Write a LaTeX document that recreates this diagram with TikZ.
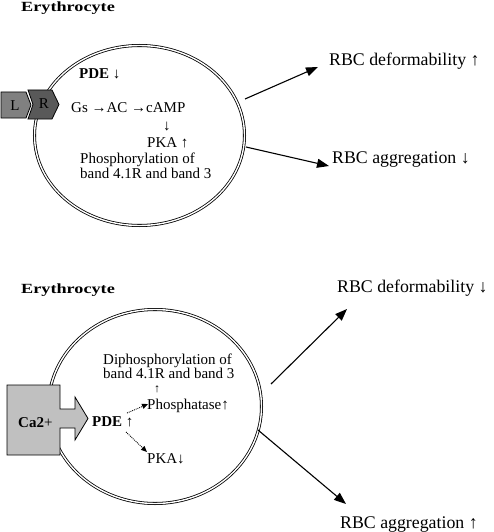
\documentclass[tikz,border=0pt]{standalone}
\usepackage{fontspec}
\setmainfont{Liberation Serif}
\usetikzlibrary{arrows.meta,shapes.geometric}
\definecolor{lgray}{HTML}{808080}
\definecolor{rgray}{HTML}{595959}
\definecolor{cagray}{HTML}{C0C0C0}
\begin{document}
\begin{tikzpicture}[x=1pt,y=-1pt,
  txt/.style={anchor=base west, inner sep=0pt, font=\fontsize{15}{17}\selectfont},
  btxt/.style={anchor=base west, inner sep=0pt, font=\bfseries\fontsize{15}{17}\selectfont},
  big/.style={anchor=base west, inner sep=0pt, font=\fontsize{17.8}{20}\selectfont},
  ttl/.style={anchor=base west, inner sep=0pt, font=\bfseries\fontsize{14}{16}\selectfont},
  cell/.style={draw, ellipse, inner sep=0pt, line width=0.8pt, double, double distance=1.4pt},
  arr/.style={-{Triangle[length=12pt,width=9pt]}, line width=1.1pt},
  darr/.style={densely dotted, line width=0.9pt, -{Triangle[length=6pt,width=5pt]}},
  memb/.style={draw, line width=0.8pt}
]
\useasboundingbox (0,0) rectangle (493,532);

% ---------- top panel ----------
\node[ttl] (t1) at (21,12) {\scalebox{1.3}[1]{Erythrocyte}};
\node[cell, minimum width=210pt, minimum height=180pt] (cell1) at (139.5,135.5) {};

\path[memb, fill=lgray] (1,92) -- (26,92) -- (31,105) -- (26,118) -- (1,118) -- cycle;
\path[memb, fill=rgray] (28,90) -- (52,90) -- (59,104.5) -- (52,119) -- (28,119) -- (33,104.5) -- cycle;
\node[txt, anchor=center] (lig) at (15,106) {L};
\node[txt, anchor=center] (rec) at (44,104) {R};

\node[btxt] (pde1) at (79,79) {PDE ↓};
\node[txt] (gs) at (71,113) {Gs →AC →cAMP};
\node[txt] (dn) at (163,130) {↓};
\node[txt] (pka1) at (147,147) {PKA ↑};
\node[txt] (ph1) at (80,163) {Phosphorylation of};
\node[txt] (ph2) at (80,178) {band 4.1R and band 3};

\node[big] (rbc1) at (329,66) {RBC deformability ↑};
\node[big] (rbc2) at (332,163) {RBC aggregation ↓};

\coordinate (a1s) at (245,99);
\coordinate (a1e) at (318,67);
\coordinate (a2s) at (246,147);
\coordinate (a2e) at (329,166);
\draw[arr] (a1s) -- (a1e);
\draw[arr] (a2s) -- (a2e);

% ---------- bottom panel ----------
\node[ttl] (t2) at (21,293) {\scalebox{1.3}[1]{Erythrocyte}};
\node[cell, minimum width=213pt, minimum height=194pt] (cell2) at (155,406.5) {};

\path[memb, fill=cagray] (7,385) -- (60,385) -- (60,409) -- (75,409) -- (75,397) -- (88,418.5)
  -- (75,440) -- (75,428) -- (60,428) -- (60,455) -- (7,455) -- cycle;
\node[anchor=base west, inner sep=0pt, font=\fontsize{15}{17}\selectfont] (ca) at (18,427) {\textbf{Ca2}+};

\node[txt] (dip1) at (103,364) {Diphosphorylation of};
\node[txt] (dip2) at (103,378) {band 4.1R and band 3};
\node[anchor=base west, inner sep=0pt, font=\fontsize{12}{13}\selectfont] (up) at (154,392) {↑};
\node[txt] (phos) at (147,409) {Phosphatase↑};
\node[btxt] (pde2) at (92,426) {PDE \textmd{↑}};
\node[txt] (pka2) at (147,463) {PKA↓};

\coordinate (d1s) at (127,413);
\coordinate (d1e) at (148,404);
\coordinate (d2s) at (126,432);
\coordinate (d2e) at (147,452);
\draw[darr] (d1s) -- (d1e);
\draw[darr] (d2s) -- (d2e);

\node[big] (rbc3) at (337,292) {RBC deformability ↓};
\node[big] (rbc4) at (340,528) {RBC aggregation ↑};

\coordinate (b1s) at (271,384);
\coordinate (b1e) at (347,309);
\coordinate (b2s) at (258,430);
\coordinate (b2e) at (346,504);
\draw[arr] (b1s) -- (b1e);
\draw[arr] (b2s) -- (b2e);
\end{tikzpicture}
\end{document}
